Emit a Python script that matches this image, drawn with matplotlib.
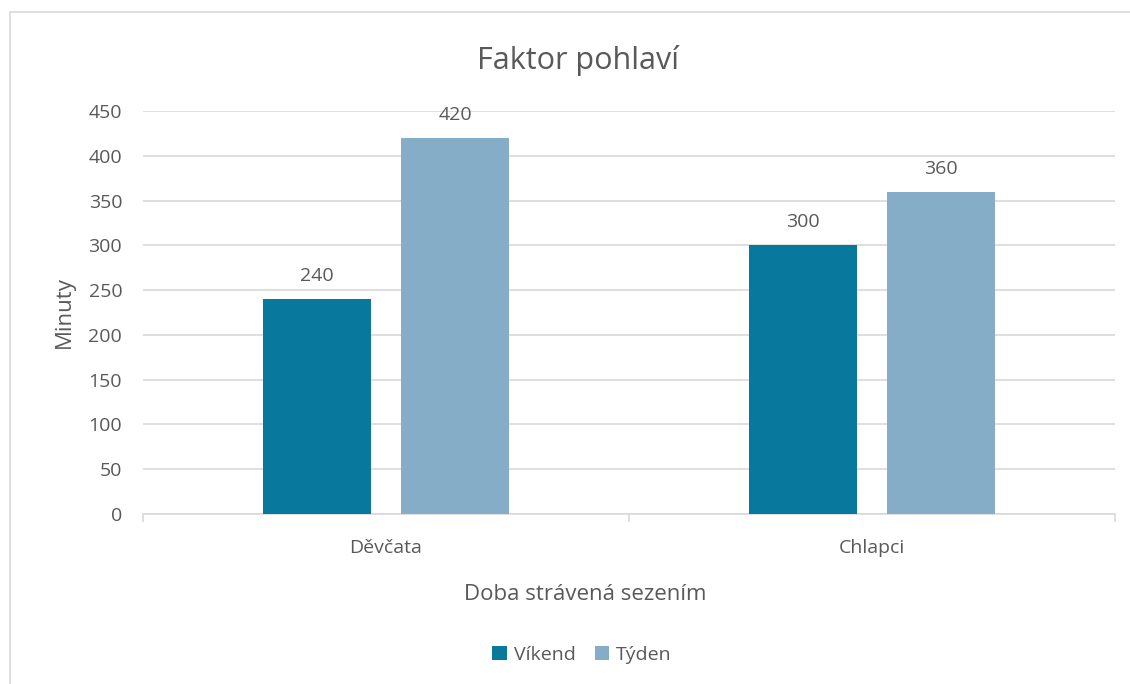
import matplotlib.pyplot as plt
import matplotlib.patches as patches
import numpy as np

kategorie = ['Děvčata', 'Chlapci']
vikend = [240, 300]
tyden = [420, 360]
serie = ['Víkend', 'Týden']
barvy = ['#08789C', '#85ADC8']
sediva = '#595959'

plt.rcParams['font.family'] = ['Open Sans', 'DejaVu Sans']

fig = plt.figure(figsize=(11.3, 6.84), dpi=100)
W, H = 1130, 684
ax = fig.add_axes([143 / W, (H - 514) / H, (1115 - 143) / W, (514 - 111) / H])

# ramecek grafu
fig.patches.append(patches.Rectangle((10 / W, -0.01), 1.1, (H - 12) / H + 0.01,
                                     transform=fig.transFigure, fill=False,
                                     edgecolor='#D9D9D9', linewidth=1.2))

x = np.arange(len(kategorie))
sirka = 108 / 486
mezera = 30 / 486
posun = (sirka + mezera) / 2

b1 = ax.bar(x - posun, vikend, sirka, color=barvy[0], label=serie[0], zorder=3)
b2 = ax.bar(x + posun, tyden, sirka, color=barvy[1], label=serie[1], zorder=3)

for bars in (b1, b2):
    for r in bars:
        ax.annotate('{}'.format(int(r.get_height())),
                    (r.get_x() + r.get_width() / 2, r.get_height()),
                    xytext=(0, 10), textcoords='offset points',
                    ha='center', va='bottom', fontsize=14, color=sediva)

ax.set_xlim(-0.5, 1.5)
ax.set_ylim(0, 450)
ax.set_yticks(np.arange(0, 451, 50))
ax.yaxis.grid(True, color='#D9D9D9', linewidth=1.2, zorder=0)
ax.set_axisbelow(True)

ax.set_xticks(x)
ax.set_xticklabels(kategorie)
ax.set_xticks([-0.5, 0.5, 1.5], minor=True)
ax.tick_params(axis='x', which='major', length=0, pad=18, labelsize=14, labelcolor=sediva)
ax.tick_params(axis='x', which='minor', length=6, color='#D9D9D9', width=1.2)
ax.tick_params(axis='y', length=0, pad=15, labelsize=14, labelcolor=sediva)

for s in ['top', 'right', 'left']:
    ax.spines[s].set_visible(False)
ax.spines['bottom'].set_color('#D9D9D9')
ax.spines['bottom'].set_linewidth(1.2)

ax.set_ylabel('Minuty', fontsize=16, color=sediva, labelpad=10)
fig.text(585 / W, 1 - 595 / H, 'Doba strávená sezením', ha='center', va='center',
         fontsize=16, color=sediva)
fig.text(578 / W, 1 - 60 / H, 'Faktor pohlaví', ha='center', va='center',
         fontsize=22, color=sediva)

fig.legend(loc='center', bbox_to_anchor=(582 / W, 1 - 655 / H), ncol=2,
           frameon=False, fontsize=14, labelcolor=sediva,
           handlelength=0.75, handleheight=0.75, handletextpad=0.35, columnspacing=1.0)

fig.savefig('out.png', dpi=100)
